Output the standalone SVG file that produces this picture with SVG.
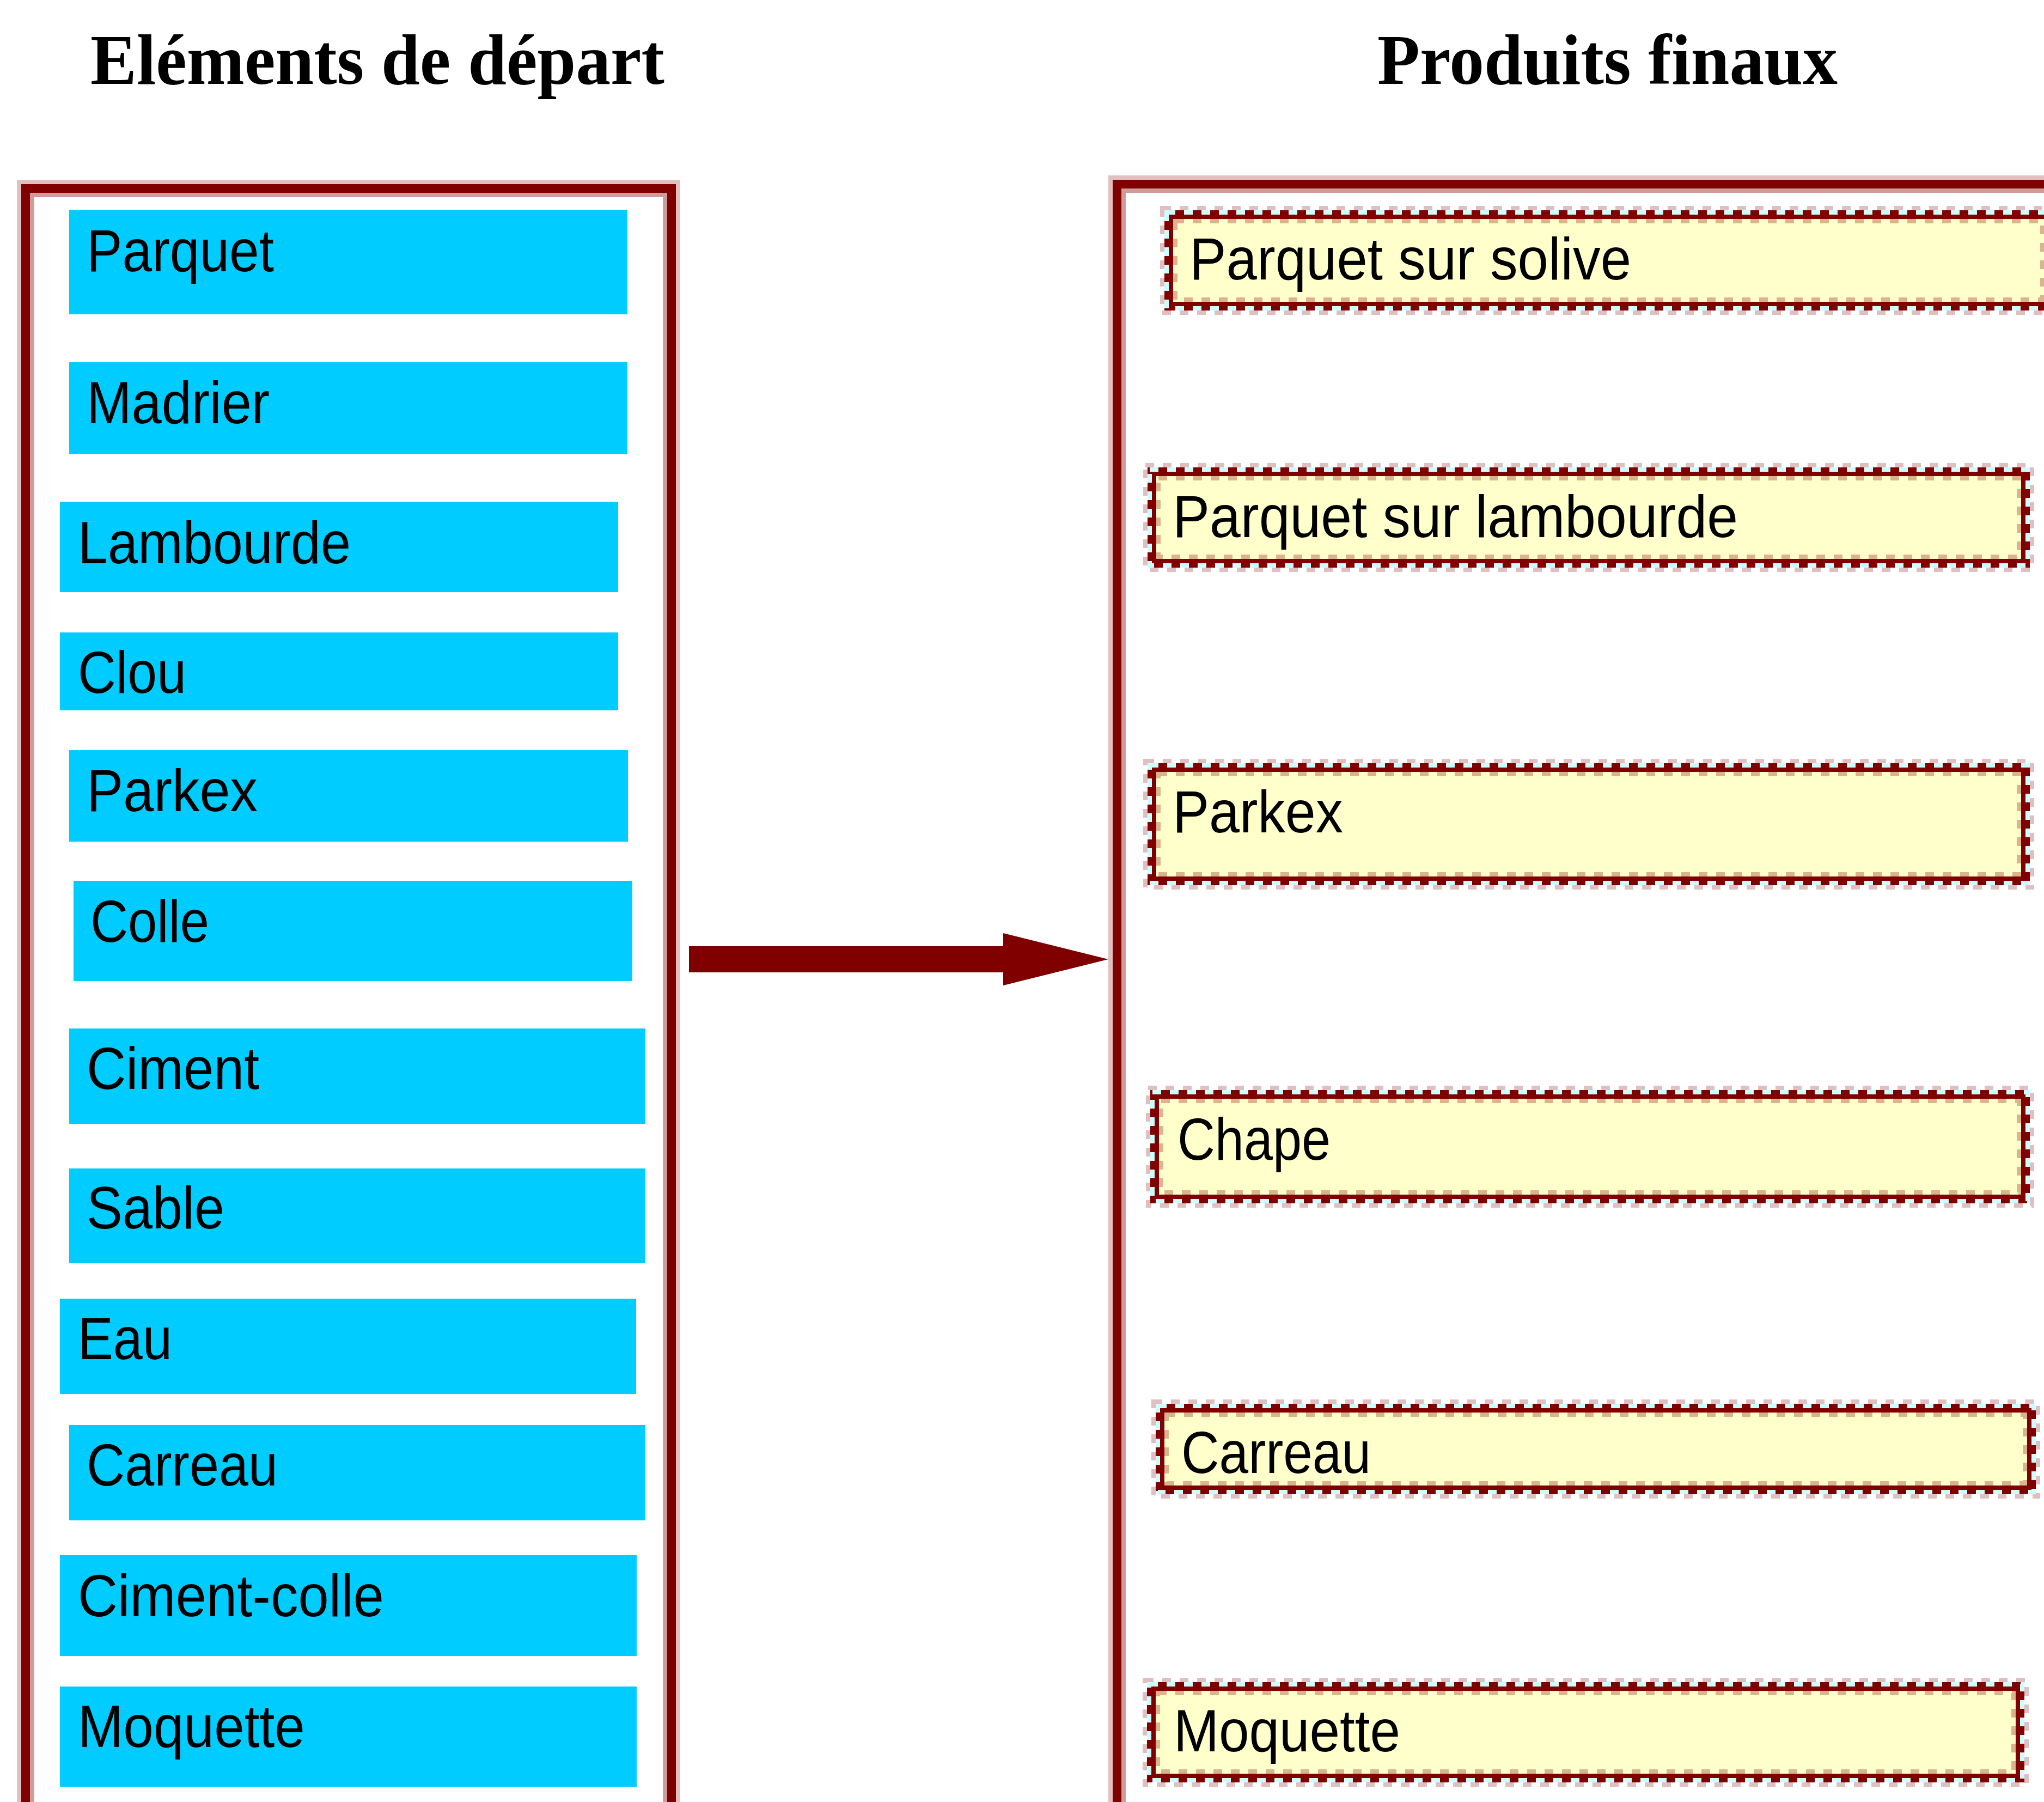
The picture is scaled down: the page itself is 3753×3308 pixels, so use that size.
<svg xmlns="http://www.w3.org/2000/svg" width="3753" height="3308" viewBox="0 0 3753 3308">
<style>
.title{font-family:"Liberation Serif","Times New Roman",serif;font-weight:bold;font-size:131px;fill:#000}
.lbl{font-family:"Liberation Sans",Arial,sans-serif;font-size:110px;fill:#000}
.src{fill:#00CCFF}
.fpale{fill:none;stroke:#e0c0c0;stroke-width:32}
.finner{fill:none;stroke:#cf9c9c;stroke-width:8}
.fdark{fill:none;stroke:#800000;stroke-width:16}
.bfill{fill:#FFFFCC;stroke:none}
.bout{fill:none;stroke:#dfbfbf;stroke-width:8;stroke-dasharray:16 16}
.bdark{fill:none;stroke:#800000;stroke-width:16}
.bdash{fill:none;stroke:#ccffff;stroke-width:8;stroke-dasharray:16 16}
.bin{fill:none;stroke:#d9b48e;stroke-width:8;stroke-dasharray:16 16}
</style>
<rect x="0" y="0" width="3753" height="3308" fill="#ffffff"/>

<g id="titles">
<text class="title" x="166" y="154" textLength="1054" lengthAdjust="spacingAndGlyphs">Eléments de départ</text>
<text class="title" x="2529" y="154" textLength="845" lengthAdjust="spacingAndGlyphs">Produits finaux</text>
</g>

<g id="frame-left">
<rect class="fpale" x="47" y="346" width="1186" height="3200"/>
<rect class="finner" x="59" y="358" width="1162" height="3200"/>
<rect class="fdark" x="47" y="346" width="1186" height="3200"/>
</g>

<g id="frame-right">
<rect class="fpale" x="2051" y="338" width="2000" height="3200"/>
<rect class="finner" x="2063" y="350" width="2000" height="3200"/>
<rect class="fdark" x="2051" y="338" width="2000" height="3200"/>
</g>

<g id="src-parquet"><rect class="src" x="127" y="385" width="1025" height="192"/><text class="lbl" x="159" y="498" textLength="344" lengthAdjust="spacingAndGlyphs">Parquet</text></g>
<g id="src-madrier"><rect class="src" x="127" y="665" width="1025" height="168"/><text class="lbl" x="159" y="777" textLength="336" lengthAdjust="spacingAndGlyphs">Madrier</text></g>
<g id="src-lambourde"><rect class="src" x="110" y="921" width="1025" height="166"/><text class="lbl" x="143" y="1034" textLength="501" lengthAdjust="spacingAndGlyphs">Lambourde</text></g>
<g id="src-clou"><rect class="src" x="110" y="1161" width="1025" height="143"/><text class="lbl" x="143" y="1272" textLength="199" lengthAdjust="spacingAndGlyphs">Clou</text></g>
<g id="src-parkex"><rect class="src" x="127" y="1377" width="1026" height="168"/><text class="lbl" x="159" y="1489" textLength="314" lengthAdjust="spacingAndGlyphs">Parkex</text></g>
<g id="src-colle"><rect class="src" x="135" y="1617" width="1026" height="184"/><text class="lbl" x="166" y="1729" textLength="218" lengthAdjust="spacingAndGlyphs">Colle</text></g>
<g id="src-ciment"><rect class="src" x="127" y="1888" width="1058" height="175"/><text class="lbl" x="159" y="1999" textLength="317" lengthAdjust="spacingAndGlyphs">Ciment</text></g>
<g id="src-sable"><rect class="src" x="127" y="2145" width="1058" height="174"/><text class="lbl" x="159" y="2255" textLength="253" lengthAdjust="spacingAndGlyphs">Sable</text></g>
<g id="src-eau"><rect class="src" x="110" y="2384" width="1058" height="175"/><text class="lbl" x="143" y="2495" textLength="173" lengthAdjust="spacingAndGlyphs">Eau</text></g>
<g id="src-carreau"><rect class="src" x="127" y="2616" width="1058" height="175"/><text class="lbl" x="159" y="2727" textLength="351" lengthAdjust="spacingAndGlyphs">Carreau</text></g>
<g id="src-ciment-colle"><rect class="src" x="110" y="2855" width="1059" height="185"/><text class="lbl" x="143" y="2967" textLength="562" lengthAdjust="spacingAndGlyphs">Ciment-colle</text></g>
<g id="src-moquette"><rect class="src" x="110" y="3096" width="1059" height="184"/><text class="lbl" x="143" y="3207" textLength="417" lengthAdjust="spacingAndGlyphs">Moquette</text></g>

<g id="prod-parquet-solive">
<rect class="bfill" x="2146" y="394" width="1616" height="168"/>
<rect class="bout" x="2134" y="382" width="1640" height="192"/>
<rect class="bdark" x="2146" y="394" width="1616" height="168"/>
<rect class="bdash" x="2142" y="390" width="1624" height="176"/>
<rect class="bin" x="2158" y="406" width="1592" height="144"/>
<text class="lbl" x="2184" y="513" textLength="811" lengthAdjust="spacingAndGlyphs">Parquet sur solive</text>
</g>
<g id="prod-parquet-lambourde">
<rect class="bfill" x="2115" y="866" width="1604" height="168"/>
<rect class="bout" x="2103" y="854" width="1628" height="192"/>
<rect class="bdark" x="2115" y="866" width="1604" height="168"/>
<rect class="bdash" x="2111" y="862" width="1612" height="176"/>
<rect class="bin" x="2127" y="878" width="1580" height="144"/>
<text class="lbl" x="2153" y="986" textLength="1038" lengthAdjust="spacingAndGlyphs">Parquet sur lambourde</text>
</g>
<g id="prod-parkex">
<rect class="bfill" x="2115" y="1409" width="1604" height="208"/>
<rect class="bout" x="2103" y="1397" width="1628" height="232"/>
<rect class="bdark" x="2115" y="1409" width="1604" height="208"/>
<rect class="bdash" x="2111" y="1405" width="1612" height="216"/>
<rect class="bin" x="2127" y="1421" width="1580" height="184"/>
<text class="lbl" x="2153" y="1528" textLength="313" lengthAdjust="spacingAndGlyphs">Parkex</text>
</g>
<g id="prod-chape">
<rect class="bfill" x="2120" y="2009" width="1599" height="192"/>
<rect class="bout" x="2108" y="1997" width="1623" height="216"/>
<rect class="bdark" x="2120" y="2009" width="1599" height="192"/>
<rect class="bdash" x="2116" y="2005" width="1607" height="200"/>
<rect class="bin" x="2132" y="2021" width="1575" height="168"/>
<text class="lbl" x="2162" y="2129" textLength="281" lengthAdjust="spacingAndGlyphs">Chape</text>
</g>
<g id="prod-carreau">
<rect class="bfill" x="2130" y="2585" width="1600" height="150"/>
<rect class="bout" x="2118" y="2573" width="1624" height="174"/>
<rect class="bdark" x="2130" y="2585" width="1600" height="150"/>
<rect class="bdash" x="2126" y="2581" width="1608" height="158"/>
<rect class="bin" x="2142" y="2597" width="1576" height="126"/>
<text class="lbl" x="2169" y="2704" textLength="348" lengthAdjust="spacingAndGlyphs">Carreau</text>
</g>
<g id="prod-moquette">
<rect class="bfill" x="2114" y="3096" width="1595" height="168"/>
<rect class="bout" x="2102" y="3084" width="1619" height="192"/>
<rect class="bdark" x="2114" y="3096" width="1595" height="168"/>
<rect class="bdash" x="2110" y="3092" width="1603" height="176"/>
<rect class="bin" x="2126" y="3108" width="1571" height="144"/>
<text class="lbl" x="2155" y="3215" textLength="416" lengthAdjust="spacingAndGlyphs">Moquette</text>
</g>

<g id="connectors">
<polygon points="1265,1737 1842,1737 1842,1713 2035,1761 1842,1809 1842,1785 1265,1785" fill="#800000"/>
</g>
</svg>
